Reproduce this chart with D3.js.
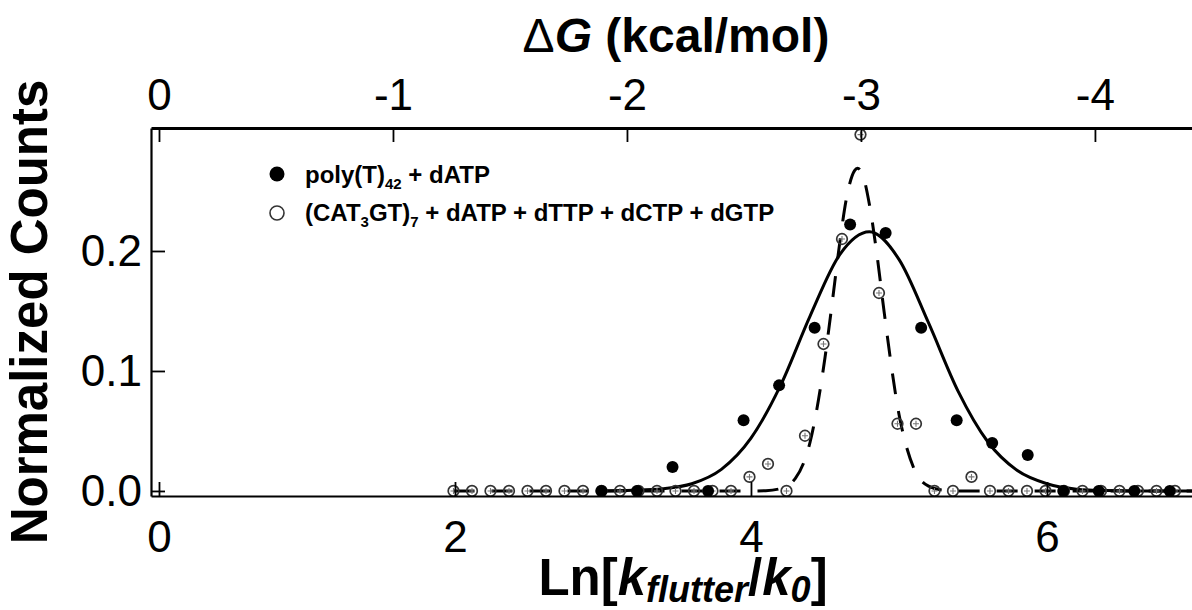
<!DOCTYPE html>
<html>
<head>
<meta charset="utf-8">
<script src="https://cdn.jsdelivr.net/npm/d3@7"></script>
<style>
  html, body { margin: 0; padding: 0; background: #fff; }
  svg { display: block; font-family: "Liberation Sans", Arial, sans-serif; }
</style>
</head>
<body>
<svg id="chart" width="1192" height="610"></svg>
<script>
// poly(T)42 + dATP histogram (filled circles)
const polyX = [2.99, 3.23, 3.47, 3.71, 3.95, 4.19, 4.43, 4.67, 4.91, 5.15, 5.39, 5.63, 5.87, 6.11, 6.35, 6.59, 6.83];
const polyY = [0, 0, 0.020, 0, 0.059, 0.088, 0.136, 0.222, 0.215, 0.136, 0.059, 0.040, 0.030, 0, 0, 0, 0];

// (CAT3GT)7 + all four dNTPs histogram (open circles)
const catX = [1.99, 2.115, 2.24, 2.365, 2.49, 2.615, 2.74, 2.865, 2.99, 3.115,
              3.24, 3.365, 3.49, 3.615, 3.74, 3.865, 3.99, 4.115, 4.24, 4.365,
              4.49, 4.615, 4.74, 4.865, 4.99, 5.115, 5.24, 5.365, 5.49, 5.615,
              5.74, 5.865, 5.99, 6.115, 6.24, 6.365, 6.49, 6.615, 6.74, 6.865];
const catY = [0, 0, 0, 0, 0, 0, 0, 0, 0, 0,
              0, 0, 0, 0, 0, 0, 0.0117, 0.0225, 0, 0.046,
              0.1225, 0.210, 0.297, 0.165, 0.056, 0.056, 0, 0, 0.0117, 0,
              0, 0, 0, 0, 0, 0, 0, 0, 0, 0];

// Gaussian fit through the poly(T) data (solid line)
const fitPolyX = [2.99, 3.2, 3.4, 3.6, 3.8, 4.0, 4.2, 4.4, 4.6, 4.8, 5.0, 5.2, 5.4, 5.6, 5.8, 6.0, 6.2, 6.4, 6.6, 6.98];
const fitPolyY = [0, 0.0005, 0.0018, 0.006, 0.018, 0.044, 0.088, 0.146, 0.197, 0.216, 0.193, 0.140, 0.083, 0.041, 0.017, 0.006, 0.0015, 0.0003, 0, 0];

// Gaussian fit through the (CAT3GT)7 data (dashed line)
const fitCatX = [1.99, 3.0, 3.9, 4.0, 4.1, 4.2, 4.3, 4.4, 4.5, 4.55, 4.6, 4.65, 4.7, 4.72, 4.75, 4.8, 4.85, 4.9, 5.0, 5.1, 5.2, 5.3, 5.4, 6.0, 6.98];
const fitCatY = [0, 0, 0, 0, 0.0002, 0.002, 0.0105, 0.041, 0.111, 0.158, 0.207, 0.247, 0.267, 0.269, 0.265, 0.239, 0.198, 0.149, 0.064, 0.019, 0.004, 0.0006, 0, 0, 0];

// Axis ticks
const xTicks = [0, 2, 4, 6];
const yTicks = [0, 0.1, 0.2];
const dgTicks = [0, -1, -2, -3, -4];
const dgTickLabels = ["0", "-1", "-2", "-3", "-4"];

// kcal/mol per natural-log unit of the rate ratio
const RT = 0.6325;

const svg = d3.select("#chart");

const x = d3.scaleLinear().domain([-0.054, 6.98]).range([151, 1192]);
const y = d3.scaleLinear().domain([-0.0042, 0.3025]).range([496, 128]);
const xTop = d3.scaleLinear().domain(x.domain().map(v => -v * RT)).range(x.range());

svg.append("defs").append("clipPath").attr("id", "plot-clip")
  .append("rect")
  .attr("x", x.range()[0]).attr("y", y.range()[1])
  .attr("width", x.range()[1] - x.range()[0])
  .attr("height", y.range()[0] - y.range()[1]);

const plot = svg.append("g").attr("clip-path", "url(#plot-clip)");

const line = d3.line().x(d => x(d[0])).y(d => y(d[1])).curve(d3.curveMonotoneX);

plot.append("path")
  .datum(d3.zip(fitPolyX, fitPolyY))
  .attr("d", line)
  .attr("fill", "none").attr("stroke", "#000").attr("stroke-width", 3);

plot.append("path")
  .datum(d3.zip(fitCatX, fitCatY))
  .attr("d", line)
  .attr("fill", "none").attr("stroke", "#000").attr("stroke-width", 3)
  .attr("stroke-dasharray", "21,17");

// open circles with small error crosses
const catPts = plot.append("g").selectAll("g").data(d3.zip(catX, catY)).join("g")
  .attr("transform", d => `translate(${x(d[0])},${y(d[1])})`);
catPts.append("circle").attr("r", 5.3).attr("fill", "none")
  .attr("stroke", "#333").attr("stroke-width", 1.7);
catPts.append("path").attr("d", "M-3,0H3M0,-3V3")
  .attr("stroke", "#777").attr("stroke-width", 1.1);

plot.append("g").selectAll("circle").data(d3.zip(polyX, polyY)).join("circle")
  .attr("cx", d => x(d[0])).attr("cy", d => y(d[1])).attr("r", 6)
  .attr("fill", "#000");

// Axes (ticks point inward)
const fontTick = 44;
const gBottom = svg.append("g").attr("transform", `translate(0,${y.range()[0]})`)
  .call(d3.axisBottom(x).tickValues(xTicks).tickFormat(d => String(d))
        .tickSizeInner(-14).tickSizeOuter(0).tickPadding(25));
const gLeft = svg.append("g").attr("transform", `translate(${x.range()[0]},0)`)
  .call(d3.axisLeft(y).tickValues(yTicks).tickFormat(d3.format(".1f"))
        .tickSizeInner(-14).tickSizeOuter(0).tickPadding(9));
const gTop = svg.append("g").attr("transform", `translate(0,${y.range()[1]})`)
  .call(d3.axisTop(xTop).tickValues(dgTicks).tickFormat((d, i) => dgTickLabels[i])
        .tickSizeInner(-14).tickSizeOuter(0).tickPadding(18));

[gBottom, gLeft, gTop].forEach(g => {
  g.selectAll("text").attr("font-size", fontTick)
    .attr("font-family", "'Liberation Sans', Arial, sans-serif").attr("fill", "#000");
  g.selectAll(".tick line").attr("stroke", "#000").attr("stroke-width", 1.8);
  g.select(".domain").attr("stroke", "#000").attr("stroke-width", 2.2);
});
gTop.select(".domain").attr("stroke-width", 3.2);

// Axis titles
const topTitle = svg.append("text").attr("x", 676).attr("y", 52)
  .attr("text-anchor", "middle").attr("font-size", 48).attr("font-weight", "bold");
topTitle.append("tspan").attr("font-weight", "normal").text("\u0394");
topTitle.append("tspan").attr("font-style", "italic").text("G");
topTitle.append("tspan").text(" (kcal/mol)");

const botTitle = svg.append("text").attr("x", 683).attr("y", 595)
  .attr("text-anchor", "middle").attr("font-size", 51).attr("font-weight", "bold");
botTitle.append("tspan").text("Ln[");
botTitle.append("tspan").attr("font-style", "italic").text("k");
botTitle.append("tspan").attr("font-style", "italic").attr("font-size", 36).attr("dy", 7).text("flutter");
botTitle.append("tspan").attr("dy", -7).text("/");
botTitle.append("tspan").attr("font-style", "italic").text("k");
botTitle.append("tspan").attr("font-style", "italic").attr("font-size", 36).attr("dy", 7).text("0");
botTitle.append("tspan").attr("dy", -7).text("]");

svg.append("text").attr("transform", "translate(47,312) rotate(-90)")
  .attr("text-anchor", "middle").attr("font-size", 51).attr("font-weight", "bold")
  .text("Normalized Counts");

// Legend
const legend = svg.append("g");
legend.append("circle").attr("cx", 277).attr("cy", 174).attr("r", 7.5).attr("fill", "#000");
legend.append("circle").attr("cx", 277).attr("cy", 213).attr("r", 7)
  .attr("fill", "none").attr("stroke", "#333").attr("stroke-width", 1.6);

const l1 = legend.append("text").attr("x", 305).attr("y", 183)
  .attr("font-size", 24).attr("font-weight", "bold");
l1.append("tspan").text("poly(T)");
l1.append("tspan").attr("font-size", 15).attr("dy", 6).text("42");
l1.append("tspan").attr("dy", -6).text(" + dATP");

const l2 = legend.append("text").attr("x", 305).attr("y", 221)
  .attr("font-size", 24).attr("font-weight", "bold");
l2.append("tspan").text("(CAT");
l2.append("tspan").attr("font-size", 15).attr("dy", 6).text("3");
l2.append("tspan").attr("dy", -6).text("GT)");
l2.append("tspan").attr("font-size", 15).attr("dy", 6).text("7");
l2.append("tspan").attr("dy", -6).text(" + dATP + dTTP + dCTP + dGTP");
</script>
</body>
</html>
